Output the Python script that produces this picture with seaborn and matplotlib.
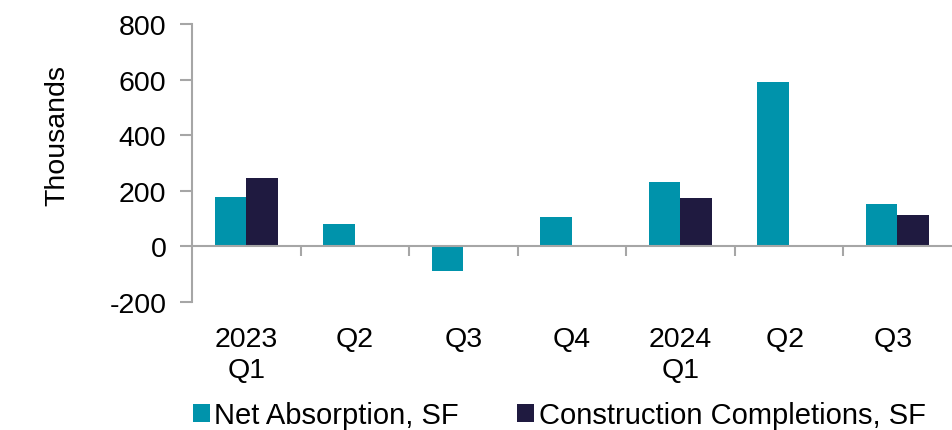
import matplotlib
matplotlib.use("Agg")
import matplotlib.pyplot as plt
import pandas as pd
import seaborn as sns
from matplotlib.ticker import FixedLocator

# quarterly values, thousands of SF
quarters = ["2023\nQ1", "Q2", "Q3", "Q4", "2024\nQ1", "Q2 ", "Q3 "]
net_absorption = [177, 79, -88, 105, 231, 591, 152]
completions = [247, 0, 0, 0, 174, 0, 113]

series_names = ["Net Absorption, SF", "Construction Completions, SF"]
colors = ["#0093ab", "#1f1a40"]

df = pd.DataFrame({
    "quarter": quarters * 2,
    "value": net_absorption + completions,
    "series": [series_names[0]] * len(quarters) + [series_names[1]] * len(quarters),
})

sns.set_style("white")
plt.rcParams["font.family"] = ["Liberation Sans", "DejaVu Sans"]
plt.rcParams["axes.unicode_minus"] = False
plt.rcParams["text.color"] = "black"

fig = plt.figure(figsize=(9.53, 4.31), dpi=100)
ax = fig.add_axes([0.2015, 0.297, 0.797, 0.645])

sns.barplot(data=df, x="quarter", y="value", hue="series", palette=colors,
            width=0.58, gap=0, saturation=1, ax=ax, edgecolor="none")

ax.set_xlim(-0.5, 6.5)
ax.set_ylim(-200, 800)
ax.set_yticks([-200, 0, 200, 400, 600, 800])

spine_col = "#a6a6a6"
for s in ["top", "right"]:
    ax.spines[s].set_visible(False)
ax.spines["left"].set_color(spine_col)
ax.spines["left"].set_linewidth(1.5)
ax.spines["bottom"].set_position(("data", 0))
ax.spines["bottom"].set_color(spine_col)
ax.spines["bottom"].set_linewidth(1.5)

ax.tick_params(axis="y", which="major", length=9, width=1.5, color=spine_col,
               labelsize=20.5, pad=9.5, left=True, labelcolor="black")
ax.tick_params(axis="x", which="major", length=0, labelsize=20.5, pad=57, labelcolor="black")
ax.xaxis.set_minor_locator(FixedLocator([i + 0.5 for i in range(len(quarters) - 1)]))
ax.tick_params(axis="x", which="minor", length=7, width=1.5, color=spine_col,
               direction="out", bottom=True)
for lab in ax.get_xticklabels():
    lab.set_linespacing(1.25)

ax.set_xlabel("")
ax.set_ylabel("Thousands", fontsize=20.5, color="black")
ax.yaxis.set_label_coords(-0.16, 0.604)

ax.get_legend().remove()
handles, labels = ax.get_legend_handles_labels()
fig.legend(handles[:2], labels[:2], loc="center", bbox_to_anchor=(0.587, 0.035),
           ncol=2, frameon=False, fontsize=21, handlelength=0.58, handleheight=0.58,
           handletextpad=0.17, columnspacing=2.0, borderaxespad=0)

fig.savefig("out.png", dpi=100)
